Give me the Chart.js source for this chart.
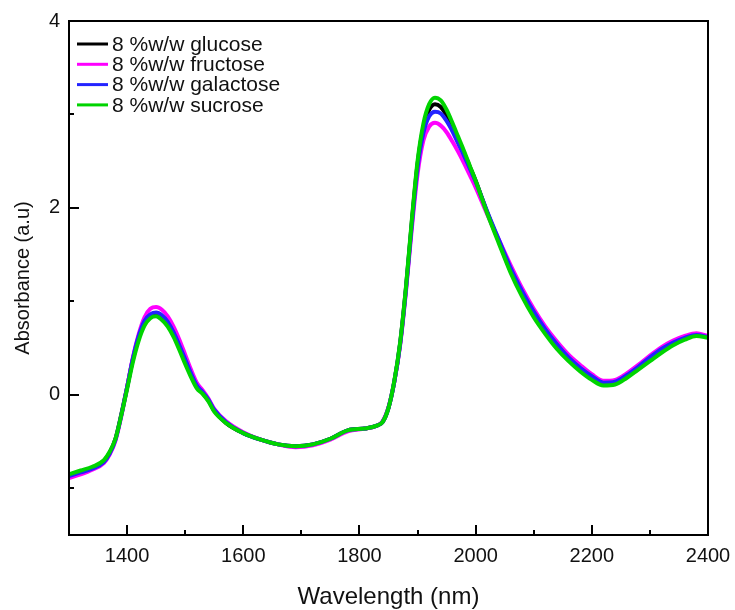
<!DOCTYPE html>
<html>
<head>
<meta charset="utf-8">
<script src="https://cdn.jsdelivr.net/npm/chart.js@4.4.0/dist/chart.umd.min.js"></script>
<style>
  html, body { margin: 0; padding: 0; background: #fff; }
  #wrap { width: 735px; height: 610px; }
</style>
</head>
<body>
<div id="wrap"><canvas id="spectra" width="735" height="610"></canvas></div>
<script>
const wavelength = [
  1300, 1320, 1340, 1360, 1370, 1380, 1390, 1400, 1410, 1420,
  1430, 1440, 1450, 1460, 1470, 1480, 1490, 1500, 1510, 1520,
  1530, 1540, 1550, 1570, 1600, 1630, 1660, 1690, 1720, 1750,
  1780, 1810, 1830, 1840, 1850, 1860, 1870, 1880, 1890, 1900,
  1910, 1920, 1930, 1940, 1950, 1960, 1970, 1980, 1990, 2000,
  2020, 2040, 2060, 2080, 2100, 2120, 2140, 2160, 2180, 2200,
  2220, 2240, 2260, 2280, 2300, 2320, 2340, 2360, 2380, 2400,
];

const glucose = [
  -0.86, -0.82, -0.78, -0.71, -0.62, -0.47, -0.21, 0.08, 0.38, 0.61,
  0.77, 0.85, 0.87, 0.83, 0.76, 0.65, 0.51, 0.36, 0.21, 0.09,
  0.02, -0.06, -0.17, -0.30, -0.41, -0.48, -0.53, -0.55, -0.53, -0.47,
  -0.38, -0.36, -0.33, -0.29, -0.14, 0.14, 0.55, 1.14, 1.84, 2.47,
  2.86, 3.05, 3.11, 3.08, 2.99, 2.87, 2.73, 2.59, 2.44, 2.29,
  1.95, 1.64, 1.33, 1.08, 0.86, 0.67, 0.51, 0.38, 0.27, 0.18,
  0.12, 0.13, 0.20, 0.29, 0.38, 0.47, 0.55, 0.61, 0.64, 0.62,
];

const fructose = [
  -0.89, -0.85, -0.80, -0.73, -0.64, -0.49, -0.23, 0.08, 0.40, 0.65,
  0.83, 0.92, 0.94, 0.91, 0.84, 0.73, 0.59, 0.43, 0.27, 0.13,
  0.05, -0.04, -0.15, -0.28, -0.40, -0.48, -0.53, -0.56, -0.54, -0.48,
  -0.39, -0.36, -0.33, -0.28, -0.13, 0.14, 0.53, 1.10, 1.77, 2.36,
  2.72, 2.87, 2.91, 2.88, 2.81, 2.71, 2.60, 2.48, 2.35, 2.22,
  1.93, 1.66, 1.39, 1.14, 0.92, 0.73, 0.57, 0.43, 0.32, 0.22,
  0.15, 0.16, 0.23, 0.32, 0.42, 0.51, 0.58, 0.63, 0.66, 0.63,
];

const galactose = [
  -0.87, -0.83, -0.79, -0.72, -0.63, -0.48, -0.22, 0.08, 0.39, 0.63,
  0.79, 0.86, 0.88, 0.85, 0.78, 0.67, 0.53, 0.38, 0.23, 0.10,
  0.03, -0.05, -0.16, -0.29, -0.41, -0.48, -0.53, -0.55, -0.53, -0.47,
  -0.38, -0.36, -0.33, -0.29, -0.14, 0.14, 0.54, 1.12, 1.81, 2.43,
  2.80, 2.98, 3.03, 3.01, 2.93, 2.82, 2.69, 2.56, 2.42, 2.28,
  1.96, 1.66, 1.36, 1.11, 0.89, 0.70, 0.54, 0.40, 0.29, 0.20,
  0.13, 0.14, 0.21, 0.30, 0.40, 0.49, 0.56, 0.61, 0.64, 0.62,
];

const sucrose = [
  -0.85, -0.81, -0.77, -0.70, -0.61, -0.47, -0.22, 0.06, 0.35, 0.58,
  0.74, 0.82, 0.84, 0.80, 0.73, 0.62, 0.48, 0.33, 0.19, 0.07,
  0.01, -0.07, -0.18, -0.30, -0.41, -0.48, -0.53, -0.55, -0.53, -0.47,
  -0.38, -0.36, -0.33, -0.29, -0.14, 0.15, 0.56, 1.15, 1.86, 2.50,
  2.90, 3.11, 3.18, 3.15, 3.05, 2.91, 2.76, 2.61, 2.45, 2.29,
  1.94, 1.62, 1.31, 1.05, 0.83, 0.65, 0.49, 0.36, 0.25, 0.16,
  0.10, 0.11, 0.18, 0.27, 0.36, 0.45, 0.53, 0.59, 0.63, 0.61,
];

const seriesNames = ["8 %w/w glucose", "8 %w/w fructose", "8 %w/w galactose", "8 %w/w sucrose"];
const seriesValues = [glucose, fructose, galactose, sucrose];
const seriesColors = ["#000000", "#ff00ff", "#2323ff", "#00d400"];

const xTicks = [1400, 1600, 1800, 2000, 2200, 2400];
const xMinorTicks = [1500, 1700, 1900, 2100, 2300];
const yTicks = [0, 2, 4];
const yMinorTicks = [-1, 1, 3];

const FONT = "'Liberation Sans', Arial, sans-serif";

// box around the plot + ticks pointing inward
const frameTicks = {
  id: "frameTicks",
  afterDatasetsDraw(chart) {
    const { ctx, chartArea: a, scales: { x, y } } = chart;
    ctx.save();
    ctx.strokeStyle = "#000";
    ctx.lineWidth = 2;
    ctx.strokeRect(a.left, a.top, a.right - a.left, a.bottom - a.top);
    ctx.beginPath();
    xTicks.forEach((v) => {
      const px = Math.round(x.getPixelForValue(v));
      ctx.moveTo(px, a.bottom); ctx.lineTo(px, a.bottom - 10);
    });
    xMinorTicks.forEach((v) => {
      const px = Math.round(x.getPixelForValue(v));
      ctx.moveTo(px, a.bottom); ctx.lineTo(px, a.bottom - 5);
    });
    yTicks.forEach((v) => {
      const py = Math.round(y.getPixelForValue(v));
      ctx.moveTo(a.left, py); ctx.lineTo(a.left + 10, py);
    });
    yMinorTicks.forEach((v) => {
      const py = Math.round(y.getPixelForValue(v));
      ctx.moveTo(a.left, py); ctx.lineTo(a.left + 5, py);
    });
    ctx.stroke();
    ctx.restore();
  },
};

// legend sits inside the plot, top-left
const innerLegend = {
  id: "innerLegend",
  afterDraw(chart) {
    const { ctx, chartArea: a } = chart;
    ctx.save();
    ctx.font = "21px " + FONT;
    ctx.textBaseline = "middle";
    ctx.fillStyle = "#111";
    seriesNames.forEach((name, i) => {
      const yy = a.top + 23 + i * 20.3;
      ctx.strokeStyle = seriesColors[i];
      ctx.lineWidth = 3;
      ctx.beginPath();
      ctx.moveTo(a.left + 8, yy);
      ctx.lineTo(a.left + 39, yy);
      ctx.stroke();
      ctx.fillText(name, a.left + 43, yy + 1);
    });
    ctx.restore();
  },
};

// sucrose drawn last so it sits on top
const datasets = seriesNames.map((name, i) => ({
  label: name,
  data: wavelength.map((w, j) => ({ x: w, y: seriesValues[i][j] })),
  borderColor: seriesColors[i],
  backgroundColor: seriesColors[i],
  borderWidth: 4,
  pointRadius: 0,
  cubicInterpolationMode: "monotone",
  fill: false,
})).reverse();

new Chart(document.getElementById("spectra").getContext("2d"), {
  type: "line",
  data: { datasets },
  plugins: [frameTicks, innerLegend],
  options: {
    responsive: false,
    animation: false,
    layout: { padding: { top: 21, right: 27, left: 0, bottom: 0 } },
    plugins: { legend: { display: false }, tooltip: { enabled: false } },
    scales: {
      x: {
        type: "linear",
        min: 1300,
        max: 2400,
        afterBuildTicks: (s) => { s.ticks = xTicks.map((v) => ({ value: v })); },
        afterFit: (s) => { s.height = 75; s.paddingRight = 0; s.paddingLeft = 0; },
        grid: { display: false, drawTicks: false },
        border: { display: false },
        ticks: {
          color: "#111",
          padding: 9,
          maxRotation: 0,
          font: { family: FONT, size: 20 },
          callback: (v) => String(v),
        },
        title: {
          display: true,
          text: "Wavelength (nm)",
          color: "#111",
          font: { family: FONT, size: 24, lineHeight: 1 },
          padding: { top: 0, bottom: 1 },
        },
      },
      y: {
        type: "linear",
        min: -1.5,
        max: 4,
        afterBuildTicks: (s) => { s.ticks = yTicks.map((v) => ({ value: v })); },
        afterFit: (s) => { s.width = 69; },
        grid: { display: false, drawTicks: false },
        border: { display: false },
        ticks: { color: "#111", padding: 9, font: { family: FONT, size: 20 }, callback: (v) => String(v) },
        title: {
          display: true,
          text: "Absorbance (a.u)",
          color: "#111",
          font: { family: FONT, size: 20, lineHeight: 1 },
          padding: { top: 13, bottom: 0 },
        },
      },
    },
  },
});
</script>
</body>
</html>
